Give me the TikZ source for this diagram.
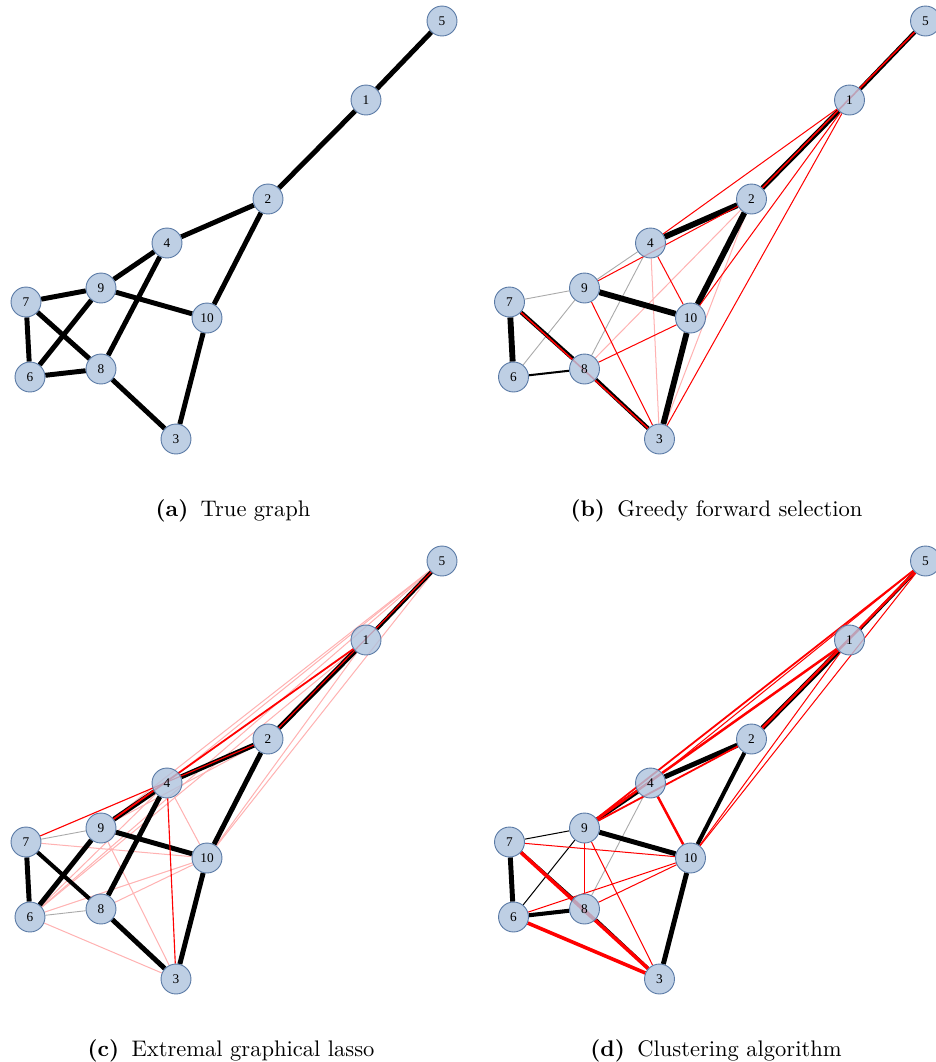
\documentclass[tikz,border=0pt]{standalone}
\usepackage{fontspec}
\newfontfamily\vtxfont{Liberation Serif}
\pgfdeclarelayer{edges}
\pgfsetlayers{edges,main}
\definecolor{vtxfill}{RGB}{176,196,222}
\definecolor{vtxline}{RGB}{90,122,165}
\definecolor{pinkred}{RGB}{255,178,178}
\definecolor{lightgrey}{RGB}{170,170,170}

% the ten vertices of one panel, named <prefix><number>
\newcommand{\placevertices}[1]{%
  \node[vertex] (#15)  at (442,21)  {5};
  \node[vertex] (#11)  at (366,100) {1};
  \node[vertex] (#12)  at (268,199) {2};
  \node[vertex] (#14)  at (167,243) {4};
  \node[vertex] (#19)  at (101,288) {9};
  \node[vertex] (#17)  at (26,302)  {7};
  \node[vertex] (#110) at (207,318) {10};
  \node[vertex] (#16)  at (30,377)  {6};
  \node[vertex] (#18)  at (101,369) {8};
  \node[vertex] (#13)  at (176,439) {3};
}

\tikzset{
  vertex/.style={circle,minimum size=13.3pt,inner sep=0pt,fill=vtxfill,
    draw=vtxline,line width=0.4pt,fill opacity=0.82,text opacity=1,
    font=\vtxfont\fontsize{5.9}{6}\selectfont},
  edgeblack/.style={line width=#1,black},
  edgered/.style={line width=#1,red},
  edgepink/.style={line width=0.45pt,pinkred},
  edgegrey/.style={line width=0.4pt,lightgrey},
  caption/.style={anchor=base,font=\fontsize{10}{12}\selectfont},
}

\begin{document}
\begin{tikzpicture}[x=0.444pt,y=-0.444pt]
\useasboundingbox (0,0) rectangle (936,1062);
% ---------- (a) true graph ----------
\begin{scope}
  \placevertices{a}
  \begin{pgfonlayer}{edges}
    \foreach \u/\v in {5/1,1/2,2/4,2/10,4/9,4/8,9/7,9/10,9/6,7/6,7/8,6/8,8/3,10/3}
      \draw[edgeblack=2.2pt] (a\u) -- (a\v);
  \end{pgfonlayer}
\end{scope}
\node[caption] (capa) at (233,516) {\textbf{(a)}\hspace{0.55em}True graph};
% ---------- (b) greedy forward selection ----------
\begin{scope}[shift={(483.5,0)}]
  \placevertices{b}
  \begin{pgfonlayer}{edges}
    \foreach \u/\v in {7/9,9/4,6/9,8/4}
      \draw[edgegrey] (b\u) -- (b\v);
    \foreach \u/\v in {2/8,2/3,4/3}
      \draw[edgepink] (b\u) -- (b\v);
    \foreach \u/\v in {2/4,2/10,9/10,10/3,7/6}
      \draw[edgeblack=2.6pt] (b\u) -- (b\v);
    \draw[edgeblack=2.2pt] (b1) -- (b2);
    \foreach \u/\v in {5/1,7/8,8/3}
      \draw[edgeblack=1.8pt] (b\u) -- (b\v);
    \draw[edgeblack=0.9pt] (b6) -- (b8);
    \foreach \u/\v in {1/4,1/10,1/3,9/2,4/10,9/3,8/10}
      \draw[edgered=0.45pt] (b\u) -- (b\v);
    \foreach \u/\v in {5/2,7/3}
      \draw[edgered=0.7pt] (b\u) -- (b\v);
  \end{pgfonlayer}
\end{scope}
\node[caption] (capb) at (716.5,516) {\textbf{(b)}\hspace{0.55em}Greedy forward selection};
% ---------- (c) extremal graphical lasso ----------
\begin{scope}[shift={(0,540)}]
  \placevertices{c}
  \begin{pgfonlayer}{edges}
    \foreach \u/\v in {7/9,6/8}
      \draw[edgegrey] (c\u) -- (c\v);
    \foreach \u/\v in {6/1,6/5,6/4,9/5,4/5,2/9,7/10,6/10,8/10,6/3,9/3,4/10,10/1,10/5}
      \draw[edgepink] (c\u) -- (c\v);
    \foreach \u/\v in {1/2,2/4,2/10,4/9,4/8,9/6,9/10,7/6,8/3,10/3}
      \draw[edgeblack=2.2pt] (c\u) -- (c\v);
    \foreach \u/\v in {5/1,7/8}
      \draw[edgeblack=1.8pt] (c\u) -- (c\v);
    \foreach \u/\v in {7/2,4/3,5/2}
      \draw[edgered=0.5pt] (c\u) -- (c\v);
    \draw[edgered=0.8pt] (c1) -- (c9);
  \end{pgfonlayer}
\end{scope}
\node[caption] (capc) at (231,1056) {\textbf{(c)}\hspace{0.55em}Extremal graphical lasso};
% ---------- (d) clustering algorithm ----------
\begin{scope}[shift={(483.5,540)}]
  \placevertices{d}
  \begin{pgfonlayer}{edges}
    \draw[edgegrey] (d8) -- (d4);
    \foreach \u/\v in {1/2,2/4,9/10,10/3,7/6}
      \draw[edgeblack=2.2pt] (d\u) -- (d\v);
    \foreach \u/\v in {2/10,4/9,6/8}
      \draw[edgeblack=1.8pt] (d\u) -- (d\v);
    \foreach \u/\v in {5/1,7/8,8/3}
      \draw[edgeblack=1.4pt] (d\u) -- (d\v);
    \foreach \u/\v in {7/9,6/9}
      \draw[edgeblack=0.45pt] (d\u) -- (d\v);
    \foreach \u/\v in {7/10,6/10,8/10,9/3,9/8,10/1,10/5,4/5}
      \draw[edgered=0.45pt] (d\u) -- (d\v);
    \foreach \u/\v in {9/2,9/5}
      \draw[edgered=0.8pt] (d\u) -- (d\v);
    \foreach \u/\v in {4/10,9/1,5/2}
      \draw[edgered=1.1pt] (d\u) -- (d\v);
    \foreach \u/\v in {6/3,7/3}
      \draw[edgered=1.6pt] (d\u) -- (d\v);
  \end{pgfonlayer}
\end{scope}
\node[caption] (capd) at (716,1056) {\textbf{(d)}\hspace{0.55em}Clustering algorithm};
\end{tikzpicture}
\end{document}
